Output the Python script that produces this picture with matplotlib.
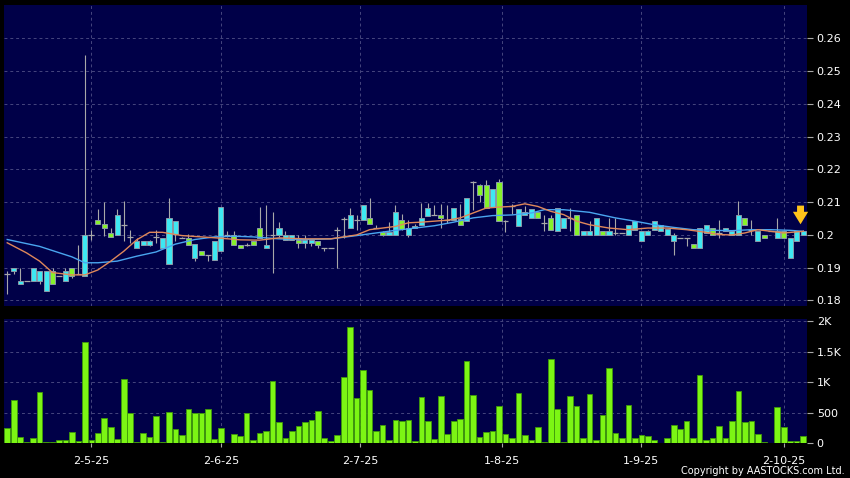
import matplotlib
matplotlib.use("Agg")
import matplotlib.pyplot as plt
import numpy as np

# ---- data (one entry per trading day) ----
opens = [.188, .189, .185, .186, .186, .186, .183, .189, .1875, .186,
         .190, .188, .1875, .200, .2045, .2033, .2005, .200, .203, .1995,
         .196, .197, .197, .1995, .196, .191, .2002, .199, .199, .193,
         .195, .194, .1922, .1951, .200, .200, .197, .197, .198, .2022,
         .196, .200, .200, .1984, .1984, .1985, .1975, .1975, .198, .196,
         .196, .2015, .205, .202, .2045, .2045, .2053, .202, .201, .200,
         .200, .2045, .200, .2022, .2031, .2059, .2061, .2061, .2045, .2046,
         .2049, .2043, .2162, .2151, .2151, .2086, .2161, .2043, .2088, .2028,
         .2061, .2051, .2069, .2035, .2052, .2013, .2021, .2052, .206, .200,
         .200, .200, .2011, .200, .2005, .2005, .200, .2016, .198, .200,
         .2016, .2011, .200, .198, .199, .199, .1973, .196, .2006, .2021,
         .2005, .2011, .200, .200, .2052, .2016, .198, .200, .2011, .1991,
         .2011, .193, .198, .200]
highs = [.189, .190, .190, .186, .190, .189, .189, .190, .1875, .190,
         .190, .197, .255, .2015, .208, .210, .202, .208, .2104, .2015,
         .199, .198, .1985, .2015, .199, .2114, .2043, .1995, .2002, .1973,
         .195, .194, .198, .2084, .2012, .2012, .197, .1975, .198, .2085,
         .209, .207, .204, .2012, .200, .200, .200, .1985, .198, .196,
         .196, .2025, .2055, .2083, .206, .209, .2114, .203, .2012, .204,
         .209, .2065, .2045, .2033, .2097, .2097, .209, .2094, .209, .2081,
         .2094, .2112, .2165, .2155, .2168, .214, .2171, .2045, .2095, .2079,
         .2089, .2079, .2069, .2062, .206, .2082, .2052, .2082, .206, .2011,
         .2041, .2052, .2011, .2052, .2052, .2005, .203, .2044, .2011, .2015,
         .2044, .203, .2019, .2005, .199, .199, .1973, .2021, .203, .2021,
         .2046, .2021, .2011, .2103, .2052, .2046, .2011, .200, .2011, .2052,
         .2011, .1991, .2011, .2015]
lows = [.182, .188, .185, .186, .186, .185, .183, .185, .1875, .186,
        .187, .188, .1875, .1985, .2035, .1997, .1995, .200, .198, .1975,
        .196, .197, .1965, .1975, .196, .191, .198, .199, .197, .192,
        .194, .192, .1922, .1951, .1995, .197, .196, .1965, .197, .199,
        .196, .1885, .1995, .1984, .1984, .196, .196, .1965, .196, .195,
        .196, .190, .199, .202, .2015, .2045, .2033, .202, .1998, .200,
        .200, .2015, .1995, .2022, .2031, .2059, .2061, .2021, .2035, .2046,
        .2031, .2043, .2075, .210, .2082, .2086, .2043, .201, .2065, .2028,
        .2061, .2051, .2051, .2011, .2016, .2013, .2021, .2011, .200, .200,
        .200, .200, .200, .200, .200, .2005, .200, .2016, .198, .200,
        .2016, .2011, .200, .194, .199, .1965, .196, .196, .2006, .200,
        .1991, .2011, .200, .200, .2031, .200, .198, .1991, .2011, .1991,
        .1991, .193, .198, .200]
closes = [.188, .190, .186, .186, .190, .189, .189, .185, .1875, .189,
          .1875, .188, .200, .200, .2033, .2022, .1995, .2062, .203, .1995,
          .198, .198, .198, .1995, .199, .2053, .2043, .199, .197, .1973,
          .194, .194, .198, .2084, .200, .197, .196, .197, .197, .199,
          .197, .200, .202, .200, .200, .1975, .1985, .1985, .197, .196,
          .196, .2015, .205, .206, .2045, .209, .2033, .202, .200, .201,
          .207, .2017, .202, .2028, .2053, .2083, .2061, .2051, .2045, .2081,
          .2031, .2112, .2162, .2122, .2082, .214, .2043, .2043, .2088, .2079,
          .2071, .2079, .2051, .2035, .2016, .2082, .2052, .2052, .200, .2011,
          .2011, .2052, .200, .2011, .2005, .2005, .203, .2044, .2011, .2011,
          .2044, .203, .2019, .200, .199, .199, .196, .2021, .203, .200,
          .2005, .2021, .2011, .2062, .2031, .2016, .2011, .1991, .2011, .2011,
          .1991, .1991, .2011, .2011]
volumes = [253, 699, 102, 22, 75, 844, 10, 10, 48, 48,
           183, 38, 1661, 54, 161, 414, 269, 65, 1048, 484,
           10, 156, 91, 441, 10, 511, 231, 129, 559, 489,
           489, 565, 70, 242, 5, 152, 119, 500, 43, 163,
           200, 1010, 339, 86, 199, 285, 349, 376, 532, 75,
           27, 134, 1086, 1903, 737, 1193, 871, 199, 290, 54,
           382, 366, 376, 32, 758, 366, 65, 763, 140, 366,
           392, 1344, 780, 91, 177, 204, 607, 145, 86, 812,
           124, 43, 258, 10, 1370, 560, 20, 770, 600, 75,
           800, 43, 460, 1230, 160, 75, 625, 80, 135, 115,
           55, 0, 86, 290, 226, 366, 86, 1118, 54, 86,
           280, 75, 366, 860, 344, 366, 145, 16, 5, 586,
           269, 32, 32, 108]

# moving averages, read at a subset of days
ma_short_idx = [0, 3, 5, 7, 10, 12, 14, 16, 18, 20, 22, 24, 27, 30, 33, 36, 39, 42,
                46, 50, 52, 54, 56, 58, 60, 62, 64, 66, 68, 70, 72, 74, 76, 78,
                80, 82, 84, 86, 88, 90, 93, 96, 99, 102, 105, 108, 110, 112, 114,
                116, 118, 120, 123]
ma_short = [.1976, .1945, .192, .1885, .1878, .1878, .1893, .192, .195, .1985, .2008,
            .2008, .1998, .1994, .199, .1985, .1984, .1991, .1988, .1988, .1994,
            .200, .2016, .2021, .2026, .2037, .2039, .2042, .2045, .2052, .2067,
            .2082, .2085, .2087, .2095, .2087, .2072, .2062, .2042, .2031, .2021,
            .2016, .2021, .2021, .2016, .2008, .2001, .200, .2006, .2016, .2011,
            .2006, .2011]
ma_long_idx = [0, 5, 10, 12, 14, 17, 20, 23, 26, 29, 32, 35, 38, 42, 46, 50, 54, 57,
               60, 63, 66, 69, 72, 75, 78, 81, 83, 86, 90, 94, 97, 100, 103, 106,
               109, 112, 115, 118, 121, 123]
ma_long = [.1986, .1965, .1933, .1915, .1915, .192, .1935, .1948, .1972, .1986,
           .1994, .1996, .1994, .1988, .1986, .1988, .1998, .2006, .2014, .2021,
           .2028, .2039, .2052, .2059, .2061, .2067, .2077, .2077, .2069, .2052,
           .2042, .2031, .2023, .2016, .2014, .2013, .2016, .2016, .2014, .2011]

tick_pos = [13, 33, 54.5, 76.5, 98, 120]
tick_labels = ["2-5-25", "2-6-25", "2-7-25", "1-8-25", "1-9-25", "2-10-25"]
price_ticks = [0.18, 0.19, 0.20, 0.21, 0.22, 0.23, 0.24, 0.25, 0.26]
price_labels = ["0.18", "0.19", "0.2", "0.21", "0.22", "0.23", "0.24", "0.25", "0.26"]
vol_ticks = [0, 500, 1000, 1500, 2000]
vol_labels = ["0", "500", "1K", "1.5K", "2K"]

BG = "#000048"
GRID = "#46467e"
UP = "#3ee8f2"
DOWN = "#86f22a"
WICK = "#a8a8a8"

fig = plt.figure(figsize=(8.5, 4.78), dpi=100, facecolor="black")
ax = fig.add_axes([4 / 850, 1 - 306 / 478, 803 / 850, 301 / 478])
axv = fig.add_axes([4 / 850, 1 - 443 / 478, 803 / 850, 124 / 478])

x = np.arange(len(opens))
o = np.array(opens)
h = np.array(highs)
l = np.array(lows)
c = np.array(closes)

for a in (ax, axv):
    a.set_facecolor(BG)
    for s in a.spines.values():
        s.set_visible(False)
    a.set_xlim(-0.5, 123.6)
    a.yaxis.tick_right()
    a.tick_params(axis="y", colors=WICK, labelcolor="white", length=4, width=0.8,
                  labelsize=8, pad=3)
    for t in tick_pos:
        a.axvline(t, color=GRID, lw=0.7, ls=(0, (3, 3)), zorder=0)

# price panel
ax.set_ylim(0.1783, 0.2702)
ax.set_yticks(price_ticks)
ax.set_yticklabels(price_labels)
for v in price_ticks:
    ax.axhline(v, color=GRID, lw=0.7, ls=(0, (3, 3)), zorder=0)
ax.set_xticks([])

ax.vlines(x, l, h, color=WICK, lw=0.8, zorder=2)
up = c > o
down = c < o
flat = c == o
ax.bar(x[up], (c - o)[up], bottom=o[up], width=0.78, color=UP,
       edgecolor="#8a9aa8", linewidth=0.7, zorder=3)
ax.bar(x[down], (o - c)[down], bottom=c[down], width=0.78, color=DOWN,
       edgecolor="#8a9aa8", linewidth=0.7, zorder=3)
ax.hlines(c[flat], x[flat] - 0.45, x[flat] + 0.45, color=WICK, lw=0.9, zorder=3)

ax.plot(ma_long_idx, ma_long, color="#4aa6f0", lw=1.0, zorder=4)
ax.plot(ma_short_idx, ma_short, color="#e0885a", lw=1.0, zorder=4)

ax.annotate("", xy=(122.6, 0.2024), xytext=(122.6, 0.2098),
            arrowprops=dict(arrowstyle="simple,head_width=1.1,head_length=0.9,tail_width=0.5",
                            color="#ffc41a", lw=0), zorder=5)

# volume panel
axv.set_ylim(0, 2033)
axv.set_yticks(vol_ticks)
axv.set_yticklabels(vol_labels)
for v in vol_ticks[1:]:
    axv.axhline(v, color=GRID, lw=0.7, ls=(0, (3, 3)), zorder=0)
axv.bar(x, volumes, width=0.88, color="#7cf514", edgecolor="#3f9a0a",
        linewidth=0.6, zorder=3)
axv.set_xticks(tick_pos)
axv.set_xticklabels(tick_labels)
axv.tick_params(axis="x", colors=WICK, labelcolor="white", length=3, width=0.8,
                labelsize=8, pad=6)

fig.text(845 / 850, 1 - 471 / 478, "Copyright by AASTOCKS.com Ltd.", color="white",
         fontsize=7, ha="right", va="center")

fig.savefig("out.png", dpi=100, facecolor="black")
